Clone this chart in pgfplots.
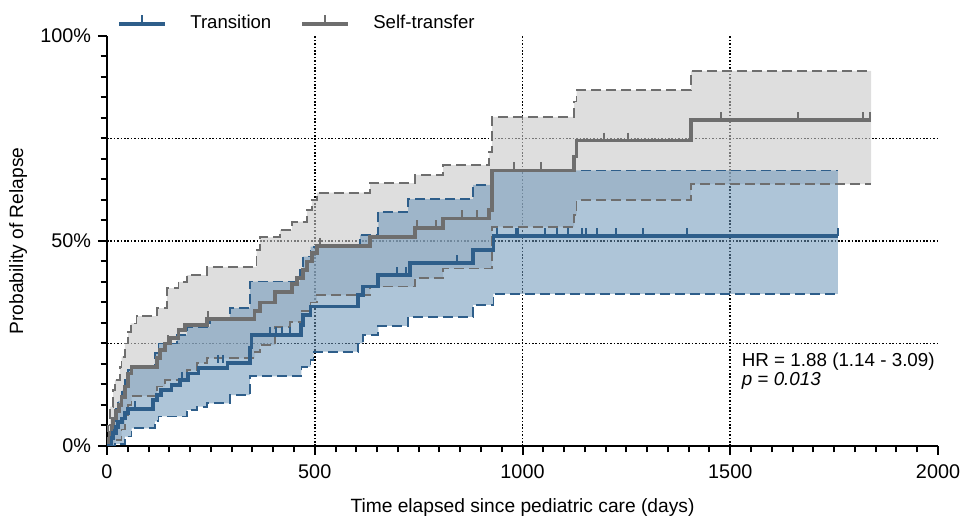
\documentclass[border=0pt]{standalone}
\usepackage{fontspec}
\setmainfont{Liberation Sans}
\usepackage{pgfplots}
\usepgfplotslibrary{fillbetween}
\pgfplotsset{compat=1.18}
\usepackage{pgfplotstable}

\definecolor{tblue}{RGB}{46,94,138}
\definecolor{tgrey}{RGB}{110,110,110}
\definecolor{fillblue}{RGB}{107,149,184}
\definecolor{fillgrey}{RGB}{200,200,200}

% Transition: main curve, upper CI, lower CI, censored
\pgfplotstableread{
x y
0 0
11 1.9
15 3.1
21 4.7
27 5.9
37 6.7
43 8.0
51 9.0
111 11.2
120 12.4
130 13.7
155 14.9
175 16.1
195 17.7
220 19.0
290 20.3
344 24.0
348 27.1
466 29.5
472 32.0
490 34.0
605 36.8
617 38.9
653 41.7
729 44.6
881 47.8
930 51.2
1759 51.2
}\bm
\pgfplotstableread{
x y
0 0
8 3
15 6
21 9
27 11
37 13.7
43 16
51 18.5
57 19.3
115 22.6
124 25
168 27.1
192 29.1
248 31.1
296 33.6
344 40.1
464 43.0
472 46.2
490 48.6
609 51.5
653 57.1
725 60.2
881 63.7
930 67.2
1759 67.2
}\bu
\pgfplotstableread{
x y
0 0
19 0.5
43 2.3
59 4.3
115 6.0
124 7.2
192 8.8
216 9.6
240 10.4
296 12.4
344 17.0
468 19.3
490 21.0
497 23.0
605 25.0
617 27.1
653 29.3
725 31.5
881 34.4
930 37.1
1759 37.1
}\bl
\pgfplotstableread{
x y
67 9.0
180 16.1
267 20.3
279 20.3
392 27.1
407 27.1
420 27.1
440 27.1
697 41.7
720 41.7
842 44.6
938 51.2
984 51.2
988 51.2
1054 51.2
1084 51.2
1110 51.2
1142 51.2
1153 51.2
1180 51.2
1226 51.2
1289 51.2
1397 51.2
1759 51.2
}\bc

% Self-transfer: main curve, upper CI, lower CI, censored
\pgfplotstableread{
x y
0 0
7 3.1
11 4.7
15 6.7
22 8.5
29 10.0
35 12.0
43 14.5
51 17.7
59 19.3
120 21.4
128 23.4
140 25.0
152 26.3
172 28.3
188 29.5
240 30.9
355 33.0
368 35.0
405 37.5
445 39.5
457 41.0
472 43.0
481 45.0
493 47.0
505 48.8
633 50.9
741 53.1
809 55.5
920 57.6
927 67.2
1124 70.6
1130 74.5
1405 79.5
1839 79.5
}\gm
\pgfplotstableread{
x y
0 0
3 5
7 9.6
15 13.7
19 16.1
31 19.3
35 21.8
43 25.0
51 27.9
57 29.9
71 31.7
120 33.6
144 38.5
172 40.0
192 41.7
240 43.7
360 47.8
368 50.9
416 52.7
445 54.7
481 57.6
493 60.0
505 61.8
633 64.1
741 66.1
809 68.5
920 71.8
927 80.3
1124 84.0
1130 86.8
1405 91.5
1839 91.5
}\gu
\pgfplotstableread{
x y
0 0
20 1.5
35 4.0
43 7.5
51 10.0
59 12.2
120 14.5
140 16.1
192 18.5
216 20.2
240 21.4
355 23.0
368 24.6
405 29.0
440 30.3
470 33.0
490 35.0
505 36.8
633 38.9
741 40.9
809 43.3
927 53.5
1124 56.3
1130 60.0
1405 63.9
1839 63.9
}\gl
\pgfplotstableread{
x y
147 25.0
243 30.9
513 48.8
745 53.1
793 53.1
854 55.5
890 55.5
980 67.2
1044 67.2
1195 74.5
1255 74.5
1478 79.5
1662 79.5
1820 79.5
1836 79.5
}\gc

\begin{document}
\begin{tikzpicture}[font=\fontsize{9.5}{11}\selectfont]
\begin{axis}[
  scale only axis, width=415.5pt, height=205pt,
  xmin=0, xmax=2000, ymin=0, ymax=100,
  axis lines=left, axis line style={-, line width=1.25pt},
  xtick={0,500,1000,1500,2000}, xticklabels={0,500,1000,1500,2000},
  ytick={0,50,100}, yticklabels={0\%,50\%,100\%},
  minor x tick num=9, minor y tick num=9,
  tick align=outside, tick style={black, line width=1pt},
  major tick length=4.5pt, minor tick length=3.2pt,
  /pgf/number format/assume math mode=true,
  ticklabel style={font=\fontsize{9.9}{11}\selectfont},
  xticklabel style={yshift=-1.5pt},
  extra x ticks={500,1000,1500}, extra x tick labels={},
  extra y ticks={25,50,75}, extra y tick labels={},
  extra tick style={grid=major, major tick length=0pt},
  major grid style={black, line width=0.8pt, dash pattern=on 0.8pt off 0.9pt},
  xlabel={Time elapsed since pediatric care (days)},
  ylabel={Probability of Relapse},
  label style={font=\fontsize{9.6}{11}\selectfont},
  xlabel style={at={(axis description cs:0.5,-0.151)}, anchor=center},
  ylabel style={at={(axis description cs:-0.107,0.5)}, anchor=center},
  legend columns=2,
  legend style={draw=none, fill=none, at={(axis description cs:0.012,1.0324)}, anchor=west,
    font=\fontsize{9.3}{11}\selectfont, inner sep=0pt,
    nodes={inner sep=0pt},
    /tikz/every odd column/.append style={column sep=11.5pt},
    /tikz/every even column/.append style={column sep=14.5pt}},
  legend image code/.code={
    \draw[#1] (0pt,0pt) -- (23pt,0pt);
    \draw[#1, line width=0.9pt] (11.5pt,0pt) -- (11.5pt,4.5pt);},
]
\addlegendimage{tblue, line width=2pt}
\addlegendentry{Transition}
\addlegendimage{tgrey, line width=2pt}
\addlegendentry{Self-transfer}

\addplot[draw=none, const plot, name path=gu, forget plot] table {\gu};
\addplot[draw=none, const plot, name path=gl, forget plot] table {\gl};
\addplot[fill=fillgrey, fill opacity=0.6, forget plot] fill between[of=gu and gl];
\addplot[draw=none, const plot, name path=bu, forget plot] table {\bu};
\addplot[draw=none, const plot, name path=bl, forget plot] table {\bl};
\addplot[fill=fillblue, fill opacity=0.55, forget plot] fill between[of=bu and bl];

\addplot[tgrey, const plot, line width=0.9pt, dash pattern=on 5pt off 2.5pt, forget plot] table {\gu};
\addplot[tgrey, const plot, line width=0.9pt, dash pattern=on 5pt off 2.5pt, forget plot] table {\gl};
\addplot[tblue, const plot, line width=0.9pt, dash pattern=on 5pt off 2.5pt, forget plot] table {\bu};
\addplot[tblue, const plot, line width=0.9pt, dash pattern=on 5pt off 2.5pt, forget plot] table {\bl};

\addplot[tgrey, const plot, line width=1.9pt, forget plot] table {\gm};
\addplot[only marks, mark=|, mark size=2pt, tgrey, mark options={yshift=2pt, line width=1pt}, forget plot] table {\gc};
\addplot[tblue, const plot, line width=1.9pt, forget plot] table {\bm};
\addplot[only marks, mark=|, mark size=2pt, tblue, mark options={yshift=2pt, line width=1pt}, forget plot] table {\bc};

\node[anchor=west, inner sep=0pt, font=\fontsize{9.4}{11}\selectfont] at (axis cs:1527,20.6) {HR = 1.88 (1.14 - 3.09)};
\node[anchor=west, inner sep=0pt, font=\fontsize{9.4}{11}\selectfont] at (axis cs:1527,15.9) {\textit{p} = \textit{0.013}};
\end{axis}
\pgfresetboundingbox
\path (-53.5pt,-35.5pt) rectangle (427.5pt,223pt);
\end{tikzpicture}
\end{document}
